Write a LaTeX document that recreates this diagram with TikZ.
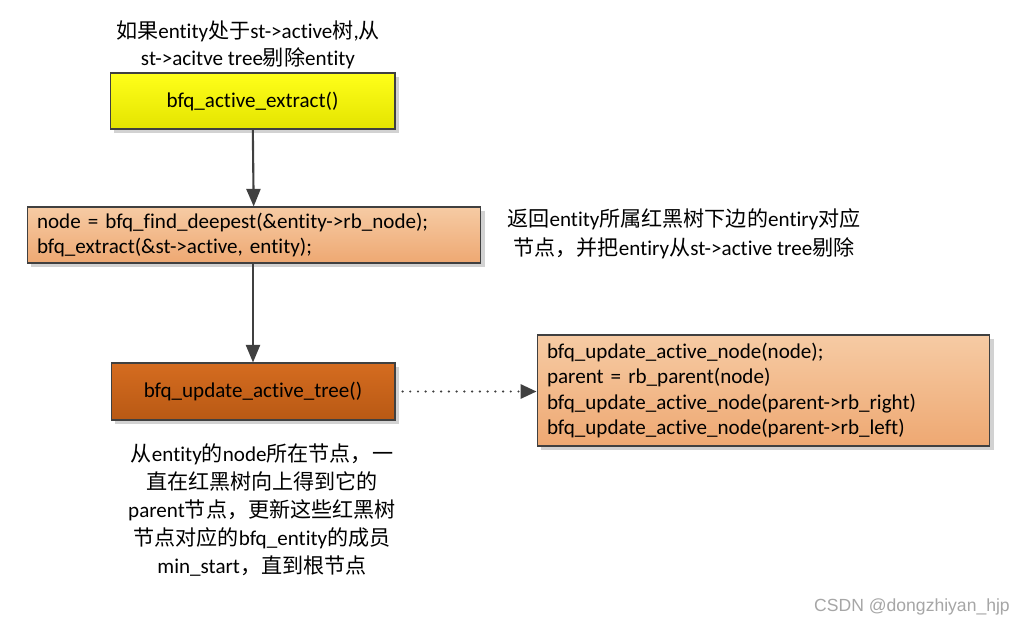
\documentclass[tikz,border=0pt]{standalone}
\usepackage{fontspec}
\setmainfont{Carlito}[Ligatures={NoCommon}]
\newfontfamily\cjk{Noto Sans CJK SC}
\newfontfamily\wmfont{Liberation Sans}
\usetikzlibrary{arrows.meta,shadows}
\newcommand{\zh}[1]{{\cjk #1}}
\definecolor{edgegray}{HTML}{404040}
\definecolor{yelltop}{HTML}{FFFF1A}
\definecolor{yellbot}{HTML}{E4E400}
\definecolor{peachtop}{HTML}{F6CBA4}
\definecolor{peachbot}{HTML}{EEA872}
\definecolor{rusttop}{HTML}{D56C20}
\definecolor{rustbot}{HTML}{B85914}
\tikzset{
  box/.style={draw=edgegray,line width=0.6pt,minimum height=1.12cm,
    drop shadow={shadow xshift=2.5pt,shadow yshift=-2.5pt,fill=gray!35,opacity=1}},
  note/.style={align=center,font=\fontsize{12}{15.5}\selectfont},
  flow/.style={-{Triangle[width=8pt,length=10pt]},line width=1.2pt,draw=edgegray},
}
\begin{document}
\begin{tikzpicture}[x=0.02cm,y=-0.02cm,font=\fontsize{12}{14.5}\selectfont]
  \useasboundingbox[fill=white] (0,0) rectangle (1029,626);

  \node[box,top color=yelltop,bottom color=yellbot,minimum width=5.7cm]
    (extract) at (252.5,101) {bfq\_active\_extract()};
  \node[box,top color=peachtop,bottom color=peachbot,minimum width=9.08cm,
    text width=8.68cm,align=left] (deepest) at (254,235)
    {node = bfq\_find\_deepest(\&entity->rb\_node);\\bfq\_extract(\&st->active, entity);};
  \node[box,top color=rusttop,bottom color=rustbot,minimum width=5.68cm,minimum height=1.14cm]
    (update) at (253,391.5) {bfq\_update\_active\_tree()};
  \node[box,top color=peachtop,bottom color=peachbot,minimum width=9.06cm,
    minimum height=2.22cm,text width=8.66cm,align=left] (detail) at (763.5,390.5)
    {bfq\_update\_active\_node(node);\\
     parent = rb\_parent(node)\\
     bfq\_update\_active\_node(parent->rb\_right)\\
     bfq\_update\_active\_node(parent->rb\_left)};

  \draw[flow] (extract) -- (deepest);
  \draw[flow] (deepest.south -| update) -- (update);
  \draw[line width=1.4pt,line cap=round,dash pattern=on 0pt off 4.4pt,draw=edgegray,
    -{Triangle[width=8pt,length=9pt,line cap=butt]}]
    ([xshift=4pt]update.east) -- (detail.west |- update.east);

  % annotations
  \node[note] (top) at (248,44.5)
    {\zh{如果}entity\zh{处于}st->active\zh{树},\zh{从}\\st->acitve tree\zh{剔除}entity};
  \node[note,font=\fontsize{12}{16.5}\selectfont] (side) at (684,233.5)
    {\zh{返回}entity\zh{所属红黑树下边的}entiry\zh{对应}\\
     \zh{节点，并把}entiry\zh{从}st->active tree\zh{剔除}};
  \node[note,font=\fontsize{12}{15.9}\selectfont] (bottom) at (262,510)
    {\zh{从}entity\zh{的}node\zh{所在节点，一}\\
     \zh{直在红黑树向上得到它的}\\
     parent\zh{节点，更新这些红黑树}\\
     \zh{节点对应的}bfq\_entity\zh{的成员}\\
     min\_start\zh{，直到根节点}};

  \node[text=gray!70,font=\wmfont\fontsize{10}{12}\selectfont,anchor=east]
    (mark) at (1016,607) {CSDN @dongzhiyan\_hjp};
\end{tikzpicture}
\end{document}
